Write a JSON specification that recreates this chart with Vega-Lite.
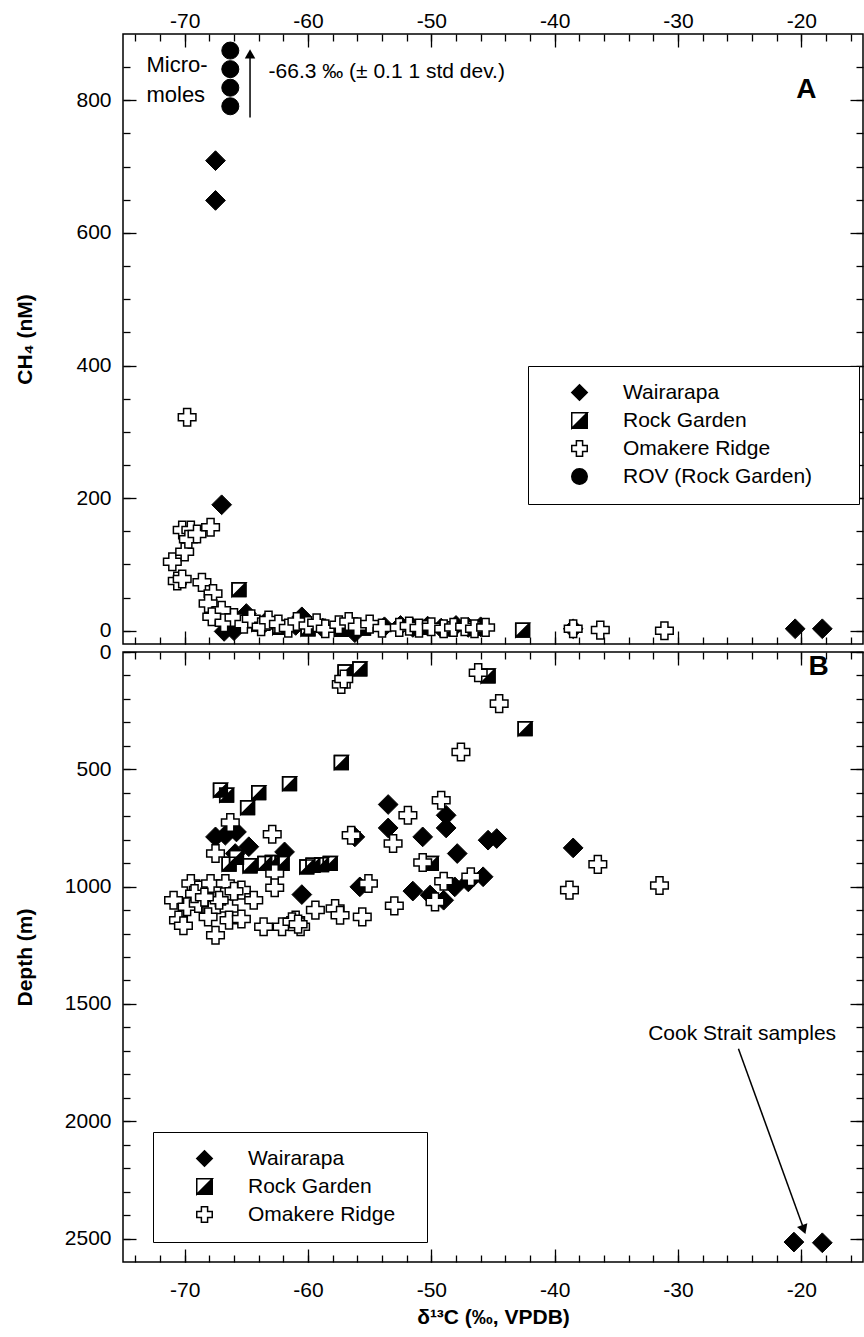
{
  "$schema": "https://vega.github.io/schema/vega-lite/v6.json",
  "background": "white",
  "padding": {"left": 13, "top": 9, "right": 0, "bottom": 0},
  "spacing": 8,
  "bounds": "flush",
  "config": {
    "view": {"stroke": "black", "strokeWidth": 1.5},
    "font": "Liberation Sans",
    "axis": {"domain": false, "grid": false, "tickColor": "black", "tickWidth": 1.3, "labelColor": "black", "labelFont": "Liberation Sans", "labelFontSize": 21, "titleFont": "Liberation Sans", "titleFontSize": 21, "titleFontWeight": "bold", "titleColor": "black"},
    "legend": {"padding": 16, "strokeColor": "black", "fillColor": "white", "symbolOffset": 25, "labelOffset": 33, "labelFont": "Liberation Sans", "labelFontSize": 21, "labelColor": "black", "labelLimit": 400, "rowPadding": 5, "symbolSize": 240, "symbolStrokeWidth": 1.5}
  },
  "datasets": {
    "A": [
      {"site": "Wairarapa", "d13C": -67.5, "ch4": 709}, {"site": "Wairarapa", "d13C": -67.5, "ch4": 649}, {"site": "Wairarapa", "d13C": -67.0, "ch4": 190}, {"site": "Wairarapa", "d13C": -66.8, "ch4": -1}, {"site": "Wairarapa", "d13C": -66.0, "ch4": 0}, {"site": "Wairarapa", "d13C": -65.0, "ch4": 26}, {"site": "Wairarapa", "d13C": -63.5, "ch4": 12}, {"site": "Wairarapa", "d13C": -61.0, "ch4": 8}, {"site": "Wairarapa", "d13C": -60.5, "ch4": 21}, {"site": "Wairarapa", "d13C": -58.8, "ch4": 4}, {"site": "Wairarapa", "d13C": -56.2, "ch4": -3}, {"site": "Wairarapa", "d13C": -53.8, "ch4": 6}, {"site": "Wairarapa", "d13C": -52.5, "ch4": 8}, {"site": "Wairarapa", "d13C": -51.5, "ch4": 5}, {"site": "Wairarapa", "d13C": -50.3, "ch4": 7}, {"site": "Wairarapa", "d13C": -49.2, "ch4": 4}, {"site": "Wairarapa", "d13C": -48.0, "ch4": 8}, {"site": "Wairarapa", "d13C": -47.0, "ch4": 5}, {"site": "Wairarapa", "d13C": -46.0, "ch4": 6}, {"site": "Wairarapa", "d13C": -38.5, "ch4": 3}, {"site": "Wairarapa", "d13C": -20.5, "ch4": 3}, {"site": "Wairarapa", "d13C": -18.3, "ch4": 3},
      {"site": "Rock Garden", "d13C": -65.6, "ch4": 62}, {"site": "Rock Garden", "d13C": -66.5, "ch4": 5}, {"site": "Rock Garden", "d13C": -64.0, "ch4": 10}, {"site": "Rock Garden", "d13C": -62.3, "ch4": 5}, {"site": "Rock Garden", "d13C": -60.0, "ch4": 3}, {"site": "Rock Garden", "d13C": -57.3, "ch4": 2}, {"site": "Rock Garden", "d13C": -55.5, "ch4": 4}, {"site": "Rock Garden", "d13C": -50.5, "ch4": 5}, {"site": "Rock Garden", "d13C": -48.5, "ch4": 3}, {"site": "Rock Garden", "d13C": -46.5, "ch4": 4}, {"site": "Rock Garden", "d13C": -42.6, "ch4": 1},
      {"site": "Omakere Ridge", "d13C": -69.8, "ch4": 322}, {"site": "Omakere Ridge", "d13C": -71.0, "ch4": 104}, {"site": "Omakere Ridge", "d13C": -70.0, "ch4": 119}, {"site": "Omakere Ridge", "d13C": -70.2, "ch4": 152}, {"site": "Omakere Ridge", "d13C": -69.5, "ch4": 152}, {"site": "Omakere Ridge", "d13C": -69.7, "ch4": 138}, {"site": "Omakere Ridge", "d13C": -69.0, "ch4": 146}, {"site": "Omakere Ridge", "d13C": -67.9, "ch4": 156}, {"site": "Omakere Ridge", "d13C": -70.6, "ch4": 75}, {"site": "Omakere Ridge", "d13C": -70.2, "ch4": 78}, {"site": "Omakere Ridge", "d13C": -68.6, "ch4": 73}, {"site": "Omakere Ridge", "d13C": -67.7, "ch4": 56}, {"site": "Omakere Ridge", "d13C": -68.1, "ch4": 41}, {"site": "Omakere Ridge", "d13C": -67.0, "ch4": 31}, {"site": "Omakere Ridge", "d13C": -67.8, "ch4": 21}, {"site": "Omakere Ridge", "d13C": -66.8, "ch4": 12}, {"site": "Omakere Ridge", "d13C": -66.0, "ch4": 20}, {"site": "Omakere Ridge", "d13C": -65.2, "ch4": 10}, {"site": "Omakere Ridge", "d13C": -64.6, "ch4": 18}, {"site": "Omakere Ridge", "d13C": -63.8, "ch4": 6}, {"site": "Omakere Ridge", "d13C": -63.2, "ch4": 16}, {"site": "Omakere Ridge", "d13C": -62.4, "ch4": 10}, {"site": "Omakere Ridge", "d13C": -61.6, "ch4": 4}, {"site": "Omakere Ridge", "d13C": -60.9, "ch4": 14}, {"site": "Omakere Ridge", "d13C": -60.0, "ch4": 8}, {"site": "Omakere Ridge", "d13C": -59.3, "ch4": 12}, {"site": "Omakere Ridge", "d13C": -58.6, "ch4": 3}, {"site": "Omakere Ridge", "d13C": -57.5, "ch4": 9}, {"site": "Omakere Ridge", "d13C": -56.7, "ch4": 14}, {"site": "Omakere Ridge", "d13C": -56.0, "ch4": 6}, {"site": "Omakere Ridge", "d13C": -55.0, "ch4": 10}, {"site": "Omakere Ridge", "d13C": -54.0, "ch4": 4}, {"site": "Omakere Ridge", "d13C": -52.6, "ch4": 5}, {"site": "Omakere Ridge", "d13C": -51.8, "ch4": 7}, {"site": "Omakere Ridge", "d13C": -51.0, "ch4": 4}, {"site": "Omakere Ridge", "d13C": -50.0, "ch4": 6}, {"site": "Omakere Ridge", "d13C": -49.0, "ch4": 3}, {"site": "Omakere Ridge", "d13C": -48.2, "ch4": 5}, {"site": "Omakere Ridge", "d13C": -47.3, "ch4": 6}, {"site": "Omakere Ridge", "d13C": -46.5, "ch4": 3}, {"site": "Omakere Ridge", "d13C": -45.6, "ch4": 5}, {"site": "Omakere Ridge", "d13C": -38.5, "ch4": 3}, {"site": "Omakere Ridge", "d13C": -36.3, "ch4": 1}, {"site": "Omakere Ridge", "d13C": -31.1, "ch4": 0},
      {"site": "ROV (Rock Garden)", "d13C": -66.3, "ch4": 875}, {"site": "ROV (Rock Garden)", "d13C": -66.3, "ch4": 847}, {"site": "ROV (Rock Garden)", "d13C": -66.3, "ch4": 819}, {"site": "ROV (Rock Garden)", "d13C": -66.3, "ch4": 791}
    ],
    "B": [
      {"site": "Wairarapa", "d13C": -53.5, "depth": 650}, {"site": "Wairarapa", "d13C": -48.8, "depth": 696}, {"site": "Wairarapa", "d13C": -48.8, "depth": 750}, {"site": "Wairarapa", "d13C": -53.5, "depth": 750}, {"site": "Wairarapa", "d13C": -50.7, "depth": 788}, {"site": "Wairarapa", "d13C": -47.9, "depth": 859}, {"site": "Wairarapa", "d13C": -45.4, "depth": 802}, {"site": "Wairarapa", "d13C": -44.7, "depth": 795}, {"site": "Wairarapa", "d13C": -56.2, "depth": 788}, {"site": "Wairarapa", "d13C": -67.5, "depth": 788}, {"site": "Wairarapa", "d13C": -66.7, "depth": 781}, {"site": "Wairarapa", "d13C": -65.8, "depth": 767}, {"site": "Wairarapa", "d13C": -64.8, "depth": 830}, {"site": "Wairarapa", "d13C": -65.9, "depth": 859}, {"site": "Wairarapa", "d13C": -61.9, "depth": 852}, {"site": "Wairarapa", "d13C": -60.5, "depth": 1034}, {"site": "Wairarapa", "d13C": -55.8, "depth": 1001}, {"site": "Wairarapa", "d13C": -51.5, "depth": 1019}, {"site": "Wairarapa", "d13C": -50.1, "depth": 1036}, {"site": "Wairarapa", "d13C": -49.0, "depth": 1058}, {"site": "Wairarapa", "d13C": -48.1, "depth": 1001}, {"site": "Wairarapa", "d13C": -47.0, "depth": 980}, {"site": "Wairarapa", "d13C": -45.8, "depth": 958}, {"site": "Wairarapa", "d13C": -38.5, "depth": 835}, {"site": "Wairarapa", "d13C": -20.6, "depth": 2515}, {"site": "Wairarapa", "d13C": -18.3, "depth": 2518},
      {"site": "Rock Garden", "d13C": -57.0, "depth": 85}, {"site": "Rock Garden", "d13C": -55.8, "depth": 72}, {"site": "Rock Garden", "d13C": -45.4, "depth": 102}, {"site": "Rock Garden", "d13C": -42.4, "depth": 327}, {"site": "Rock Garden", "d13C": -57.3, "depth": 471}, {"site": "Rock Garden", "d13C": -61.5, "depth": 561}, {"site": "Rock Garden", "d13C": -67.1, "depth": 589}, {"site": "Rock Garden", "d13C": -66.6, "depth": 610}, {"site": "Rock Garden", "d13C": -64.0, "depth": 599}, {"site": "Rock Garden", "d13C": -64.9, "depth": 663}, {"site": "Rock Garden", "d13C": -66.4, "depth": 904}, {"site": "Rock Garden", "d13C": -64.7, "depth": 911}, {"site": "Rock Garden", "d13C": -63.5, "depth": 901}, {"site": "Rock Garden", "d13C": -62.9, "depth": 897}, {"site": "Rock Garden", "d13C": -62.1, "depth": 901}, {"site": "Rock Garden", "d13C": -60.1, "depth": 916}, {"site": "Rock Garden", "d13C": -59.6, "depth": 909}, {"site": "Rock Garden", "d13C": -58.9, "depth": 906}, {"site": "Rock Garden", "d13C": -58.2, "depth": 901}, {"site": "Rock Garden", "d13C": -50.0, "depth": 901}, {"site": "Rock Garden", "d13C": -65.8, "depth": 875},
      {"site": "Omakere Ridge", "d13C": -57.3, "depth": 138}, {"site": "Omakere Ridge", "d13C": -57.1, "depth": 115}, {"site": "Omakere Ridge", "d13C": -46.2, "depth": 88}, {"site": "Omakere Ridge", "d13C": -44.5, "depth": 220}, {"site": "Omakere Ridge", "d13C": -47.6, "depth": 426}, {"site": "Omakere Ridge", "d13C": -49.2, "depth": 632}, {"site": "Omakere Ridge", "d13C": -51.9, "depth": 696}, {"site": "Omakere Ridge", "d13C": -66.3, "depth": 727}, {"site": "Omakere Ridge", "d13C": -62.9, "depth": 777}, {"site": "Omakere Ridge", "d13C": -56.5, "depth": 781}, {"site": "Omakere Ridge", "d13C": -67.5, "depth": 859}, {"site": "Omakere Ridge", "d13C": -53.1, "depth": 816}, {"site": "Omakere Ridge", "d13C": -50.7, "depth": 897}, {"site": "Omakere Ridge", "d13C": -62.7, "depth": 944}, {"site": "Omakere Ridge", "d13C": -62.7, "depth": 1005}, {"site": "Omakere Ridge", "d13C": -55.1, "depth": 987}, {"site": "Omakere Ridge", "d13C": -53.0, "depth": 1082}, {"site": "Omakere Ridge", "d13C": -49.7, "depth": 1065}, {"site": "Omakere Ridge", "d13C": -49.0, "depth": 977}, {"site": "Omakere Ridge", "d13C": -46.8, "depth": 958}, {"site": "Omakere Ridge", "d13C": -36.5, "depth": 905}, {"site": "Omakere Ridge", "d13C": -38.8, "depth": 1015}, {"site": "Omakere Ridge", "d13C": -31.5, "depth": 995},
      {"site": "Omakere Ridge", "d13C": -70.9, "depth": 1058}, {"site": "Omakere Ridge", "d13C": -69.5, "depth": 987}, {"site": "Omakere Ridge", "d13C": -68.9, "depth": 1015}, {"site": "Omakere Ridge", "d13C": -67.9, "depth": 987}, {"site": "Omakere Ridge", "d13C": -66.7, "depth": 987}, {"site": "Omakere Ridge", "d13C": -65.4, "depth": 1015}, {"site": "Omakere Ridge", "d13C": -64.4, "depth": 1058}, {"site": "Omakere Ridge", "d13C": -69.8, "depth": 1086}, {"site": "Omakere Ridge", "d13C": -68.9, "depth": 1072}, {"site": "Omakere Ridge", "d13C": -67.8, "depth": 1100}, {"site": "Omakere Ridge", "d13C": -66.8, "depth": 1043}, {"site": "Omakere Ridge", "d13C": -66.4, "depth": 1093}, {"site": "Omakere Ridge", "d13C": -70.5, "depth": 1143}, {"site": "Omakere Ridge", "d13C": -70.1, "depth": 1167}, {"site": "Omakere Ridge", "d13C": -68.1, "depth": 1129}, {"site": "Omakere Ridge", "d13C": -66.4, "depth": 1143}, {"site": "Omakere Ridge", "d13C": -65.4, "depth": 1138}, {"site": "Omakere Ridge", "d13C": -67.5, "depth": 1207}, {"site": "Omakere Ridge", "d13C": -63.6, "depth": 1171}, {"site": "Omakere Ridge", "d13C": -62.1, "depth": 1171}, {"site": "Omakere Ridge", "d13C": -61.0, "depth": 1143}, {"site": "Omakere Ridge", "d13C": -60.6, "depth": 1171}, {"site": "Omakere Ridge", "d13C": -59.4, "depth": 1100}, {"site": "Omakere Ridge", "d13C": -57.8, "depth": 1093}, {"site": "Omakere Ridge", "d13C": -57.4, "depth": 1122}, {"site": "Omakere Ridge", "d13C": -55.6, "depth": 1129}, {"site": "Omakere Ridge", "d13C": -69.2, "depth": 1030}, {"site": "Omakere Ridge", "d13C": -67.2, "depth": 1058}, {"site": "Omakere Ridge", "d13C": -68.4, "depth": 1045}, {"site": "Omakere Ridge", "d13C": -66.0, "depth": 1020}, {"site": "Omakere Ridge", "d13C": -61.3, "depth": 1150}, {"site": "Omakere Ridge", "d13C": -60.8, "depth": 1160}
    ]
  },
  "resolve": {"scale": {"shape": "independent", "fill": "independent", "stroke": "independent"}, "legend": {"shape": "independent", "fill": "independent", "stroke": "independent"}},
  "vconcat": [
    {
      "width": 740,
      "height": 610,
      "data": {"name": "A"},
      "resolve": {"axis": {"x": "independent", "y": "independent"}},
      "layer": [
        {
          "transform": [{"filter": "datum.site === 'Wairarapa'"}],
          "mark": {"type": "point", "filled": true, "size": 390, "strokeWidth": 1, "opacity": 1},
          "encoding": {
            "x": {"field": "d13C", "type": "quantitative", "scale": {"domain": [-75, -15], "nice": false, "zero": false}, "axis": {"orient": "top", "values": [-70, -60, -50, -40, -30, -20], "tickSize": -13, "labelPadding": 16, "labelExpr": "'' + datum.value", "title": null}},
            "y": {"field": "ch4", "type": "quantitative", "scale": {"domain": [-20, 900], "nice": false, "zero": false}, "axis": {"orient": "left", "values": [0, 200, 400, 600, 800], "tickSize": -13, "labelPadding": 25, "labelExpr": "'' + datum.value", "title": "CH₄ (nM)", "titlePadding": 26, "minExtent": 62, "maxExtent": 62}},
            "shape": {"field": "site", "type": "nominal", "scale": {"domain": ["Wairarapa", "Rock Garden", "Omakere Ridge", "ROV (Rock Garden)"], "range": ["diamond", "M-1,-1L1,-1L1,1L-1,1ZM-1,-1L-1,1L1,-1Z", "cross", "circle"]}, "legend": {"title": null, "orient": "none", "legendX": 405, "legendY": 332, "labelExpr": "datum.label + '⠀⠀'"}},
            "fill": {"field": "site", "type": "nominal", "scale": {"domain": ["Wairarapa", "Rock Garden", "Omakere Ridge", "ROV (Rock Garden)"], "range": ["black", "black", "white", "black"]}, "legend": {"title": null, "orient": "none", "legendX": 405, "legendY": 332, "labelExpr": "datum.label + '⠀⠀'"}},
            "stroke": {"field": "site", "type": "nominal", "scale": {"domain": ["Wairarapa", "Rock Garden", "Omakere Ridge", "ROV (Rock Garden)"], "range": ["black", "black", "black", "black"]}, "legend": {"title": null, "orient": "none", "legendX": 405, "legendY": 332, "labelExpr": "datum.label + '⠀⠀'"}}
          }
        },
        {
          "transform": [{"filter": "datum.site === 'Rock Garden'"}],
          "mark": {"type": "point", "shape": "square", "filled": true, "fill": "white", "size": 190, "stroke": "black", "strokeWidth": 1.5, "opacity": 1},
          "encoding": {
            "x": {"field": "d13C", "type": "quantitative", "scale": {"domain": [-75, -15], "nice": false, "zero": false}, "axis": {"orient": "top", "values": [-74, -72, -70, -68, -66, -64, -62, -60, -58, -56, -54, -52, -50, -48, -46, -44, -42, -40, -38, -36, -34, -32, -30, -28, -26, -24, -22, -20, -18, -16], "tickSize": -7, "labels": false, "title": null, "minExtent": 0, "maxExtent": 0}},
            "y": {"field": "ch4", "type": "quantitative", "scale": {"domain": [-20, 900], "nice": false, "zero": false}, "axis": {"orient": "left", "values": [0, 50, 100, 150, 200, 250, 300, 350, 400, 450, 500, 550, 600, 650, 700, 750, 800, 850], "tickSize": -7, "labels": false, "title": null, "minExtent": 0, "maxExtent": 0}}
          }
        },
        {
          "transform": [{"filter": "datum.site === 'Rock Garden'"}],
          "mark": {"type": "point", "filled": true, "size": 190, "strokeWidth": 1.5, "opacity": 1},
          "encoding": {
            "x": {"field": "d13C", "type": "quantitative", "scale": {"domain": [-75, -15], "nice": false, "zero": false}, "axis": {"orient": "bottom", "values": [-70, -60, -50, -40, -30, -20], "tickSize": -13, "labels": false, "title": null, "minExtent": 0, "maxExtent": 0}},
            "y": {"field": "ch4", "type": "quantitative", "scale": {"domain": [-20, 900], "nice": false, "zero": false}, "axis": {"orient": "right", "values": [0, 200, 400, 600, 800], "tickSize": -13, "labels": false, "title": null, "minExtent": 0, "maxExtent": 0}},
            "shape": {"field": "site", "type": "nominal", "scale": {"domain": ["Wairarapa", "Rock Garden", "Omakere Ridge", "ROV (Rock Garden)"], "range": ["diamond", "M-1,-1L1,-1L1,1L-1,1ZM-1,-1L-1,1L1,-1Z", "cross", "circle"]}, "legend": {"title": null, "orient": "none", "legendX": 405, "legendY": 332, "labelExpr": "datum.label + '⠀⠀'"}},
            "fill": {"field": "site", "type": "nominal", "scale": {"domain": ["Wairarapa", "Rock Garden", "Omakere Ridge", "ROV (Rock Garden)"], "range": ["black", "black", "white", "black"]}, "legend": {"title": null, "orient": "none", "legendX": 405, "legendY": 332, "labelExpr": "datum.label + '⠀⠀'"}},
            "stroke": {"field": "site", "type": "nominal", "scale": {"domain": ["Wairarapa", "Rock Garden", "Omakere Ridge", "ROV (Rock Garden)"], "range": ["black", "black", "black", "black"]}, "legend": {"title": null, "orient": "none", "legendX": 405, "legendY": 332, "labelExpr": "datum.label + '⠀⠀'"}}
          }
        },
        {
          "transform": [{"filter": "datum.site === 'Omakere Ridge'"}],
          "mark": {"type": "point", "filled": true, "size": 310, "strokeWidth": 1.5, "opacity": 1},
          "encoding": {
            "x": {"field": "d13C", "type": "quantitative", "scale": {"domain": [-75, -15], "nice": false, "zero": false}, "axis": {"orient": "bottom", "values": [-74, -72, -70, -68, -66, -64, -62, -60, -58, -56, -54, -52, -50, -48, -46, -44, -42, -40, -38, -36, -34, -32, -30, -28, -26, -24, -22, -20, -18, -16], "tickSize": -7, "labels": false, "title": null, "minExtent": 0, "maxExtent": 0}},
            "y": {"field": "ch4", "type": "quantitative", "scale": {"domain": [-20, 900], "nice": false, "zero": false}, "axis": {"orient": "right", "values": [0, 50, 100, 150, 200, 250, 300, 350, 400, 450, 500, 550, 600, 650, 700, 750, 800, 850], "tickSize": -7, "labels": false, "title": null, "minExtent": 0, "maxExtent": 0}},
            "shape": {"field": "site", "type": "nominal", "scale": {"domain": ["Wairarapa", "Rock Garden", "Omakere Ridge", "ROV (Rock Garden)"], "range": ["diamond", "M-1,-1L1,-1L1,1L-1,1ZM-1,-1L-1,1L1,-1Z", "cross", "circle"]}, "legend": {"title": null, "orient": "none", "legendX": 405, "legendY": 332, "labelExpr": "datum.label + '⠀⠀'"}},
            "fill": {"field": "site", "type": "nominal", "scale": {"domain": ["Wairarapa", "Rock Garden", "Omakere Ridge", "ROV (Rock Garden)"], "range": ["black", "black", "white", "black"]}, "legend": {"title": null, "orient": "none", "legendX": 405, "legendY": 332, "labelExpr": "datum.label + '⠀⠀'"}},
            "stroke": {"field": "site", "type": "nominal", "scale": {"domain": ["Wairarapa", "Rock Garden", "Omakere Ridge", "ROV (Rock Garden)"], "range": ["black", "black", "black", "black"]}, "legend": {"title": null, "orient": "none", "legendX": 405, "legendY": 332, "labelExpr": "datum.label + '⠀⠀'"}}
          }
        },
        {
          "transform": [{"filter": "datum.site === 'ROV (Rock Garden)'"}],
          "mark": {"type": "point", "filled": true, "size": 290, "strokeWidth": 1, "opacity": 1},
          "encoding": {
            "x": {"field": "d13C", "type": "quantitative", "scale": {"domain": [-75, -15], "nice": false, "zero": false}, "axis": null},
            "y": {"field": "ch4", "type": "quantitative", "scale": {"domain": [-20, 900], "nice": false, "zero": false}, "axis": null},
            "shape": {"field": "site", "type": "nominal", "scale": {"domain": ["Wairarapa", "Rock Garden", "Omakere Ridge", "ROV (Rock Garden)"], "range": ["diamond", "M-1,-1L1,-1L1,1L-1,1ZM-1,-1L-1,1L1,-1Z", "cross", "circle"]}, "legend": {"title": null, "orient": "none", "legendX": 405, "legendY": 332, "labelExpr": "datum.label + '⠀⠀'"}},
            "fill": {"field": "site", "type": "nominal", "scale": {"domain": ["Wairarapa", "Rock Garden", "Omakere Ridge", "ROV (Rock Garden)"], "range": ["black", "black", "white", "black"]}, "legend": {"title": null, "orient": "none", "legendX": 405, "legendY": 332, "labelExpr": "datum.label + '⠀⠀'"}},
            "stroke": {"field": "site", "type": "nominal", "scale": {"domain": ["Wairarapa", "Rock Garden", "Omakere Ridge", "ROV (Rock Garden)"], "range": ["black", "black", "black", "black"]}, "legend": {"title": null, "orient": "none", "legendX": 405, "legendY": 332, "labelExpr": "datum.label + '⠀⠀'"}}
          }
        },
        {
          "data": {"values": [{}]},
          "mark": {"type": "rule", "color": "black", "strokeWidth": 1.5},
          "encoding": {
            "x": {"datum": -64.7, "type": "quantitative", "scale": {"domain": [-75, -15], "nice": false, "zero": false}, "axis": null},
            "y": {"datum": 774, "type": "quantitative", "scale": {"domain": [-20, 900], "nice": false, "zero": false}, "axis": null},
            "y2": {"datum": 866}
          }
        },
        {
          "data": {"values": [{}]},
          "mark": {"type": "point", "shape": "triangle-up", "filled": true, "color": "black", "size": 110, "opacity": 1},
          "encoding": {
            "x": {"datum": -64.7, "type": "quantitative", "scale": {"domain": [-75, -15], "nice": false, "zero": false}, "axis": null},
            "y": {"datum": 870, "type": "quantitative", "scale": {"domain": [-20, 900], "nice": false, "zero": false}, "axis": null}
          }
        },
        {
          "data": {"values": [{}]},
          "mark": {"type": "text", "text": ["Micro-", "moles"], "align": "left", "baseline": "middle", "font": "Liberation Sans", "fontSize": 22, "lineHeight": 30, "color": "black"},
          "encoding": {
            "x": {"datum": -73.1, "type": "quantitative", "scale": {"domain": [-75, -15], "nice": false, "zero": false}, "axis": null},
            "y": {"datum": 854, "type": "quantitative", "scale": {"domain": [-20, 900], "nice": false, "zero": false}, "axis": null}
          }
        },
        {
          "data": {"values": [{}]},
          "mark": {"type": "text", "text": "-66.3 ‰ (± 0.1 1 std dev.)", "align": "left", "baseline": "middle", "font": "Liberation Sans", "fontSize": 21, "color": "black"},
          "encoding": {
            "x": {"datum": -63.2, "type": "quantitative", "scale": {"domain": [-75, -15], "nice": false, "zero": false}, "axis": null},
            "y": {"datum": 842, "type": "quantitative", "scale": {"domain": [-20, 900], "nice": false, "zero": false}, "axis": null}
          }
        },
        {
          "data": {"values": [{}]},
          "mark": {"type": "text", "text": "A", "align": "center", "baseline": "middle", "font": "Liberation Sans", "fontSize": 28, "fontWeight": "bold", "color": "black"},
          "encoding": {
            "x": {"datum": -19.6, "type": "quantitative", "scale": {"domain": [-75, -15], "nice": false, "zero": false}, "axis": null},
            "y": {"datum": 816, "type": "quantitative", "scale": {"domain": [-20, 900], "nice": false, "zero": false}, "axis": null}
          }
        }
      ]
    },
    {
      "width": 740,
      "height": 610,
      "data": {"name": "B"},
      "resolve": {"axis": {"x": "independent", "y": "independent"}},
      "layer": [
        {
          "transform": [{"filter": "datum.site === 'Wairarapa'"}],
          "mark": {"type": "point", "filled": true, "size": 390, "strokeWidth": 1, "opacity": 1},
          "encoding": {
            "x": {"field": "d13C", "type": "quantitative", "scale": {"domain": [-75, -15], "nice": false, "zero": false}, "axis": {"orient": "bottom", "values": [-70, -60, -50, -40, -30, -20], "tickSize": -13, "labelPadding": 30, "labelExpr": "'' + datum.value", "title": "δ¹³C (‰, VPDB)", "titlePadding": 6, "minExtent": 38, "maxExtent": 38}},
            "y": {"field": "depth", "type": "quantitative", "scale": {"domain": [0, 2600], "nice": false, "zero": false, "reverse": true}, "axis": {"orient": "left", "values": [0, 500, 1000, 1500, 2000, 2500], "tickSize": -13, "labelPadding": 25, "labelExpr": "'' + datum.value", "title": "Depth (m)", "titlePadding": 26, "minExtent": 62, "maxExtent": 62}},
            "shape": {"field": "site", "type": "nominal", "scale": {"domain": ["Wairarapa", "Rock Garden", "Omakere Ridge"], "range": ["diamond", "M-1,-1L1,-1L1,1L-1,1ZM-1,-1L-1,1L1,-1Z", "cross"]}, "legend": {"title": null, "orient": "none", "legendX": 30, "legendY": 480, "labelExpr": "datum.label + '⠀'"}},
            "fill": {"field": "site", "type": "nominal", "scale": {"domain": ["Wairarapa", "Rock Garden", "Omakere Ridge"], "range": ["black", "black", "white"]}, "legend": {"title": null, "orient": "none", "legendX": 30, "legendY": 480, "labelExpr": "datum.label + '⠀'"}},
            "stroke": {"field": "site", "type": "nominal", "scale": {"domain": ["Wairarapa", "Rock Garden", "Omakere Ridge"], "range": ["black", "black", "black"]}, "legend": {"title": null, "orient": "none", "legendX": 30, "legendY": 480, "labelExpr": "datum.label + '⠀'"}}
          }
        },
        {
          "transform": [{"filter": "datum.site === 'Rock Garden'"}],
          "mark": {"type": "point", "shape": "square", "filled": true, "fill": "white", "size": 190, "stroke": "black", "strokeWidth": 1.5, "opacity": 1},
          "encoding": {
            "x": {"field": "d13C", "type": "quantitative", "scale": {"domain": [-75, -15], "nice": false, "zero": false}, "axis": {"orient": "bottom", "values": [-74, -72, -70, -68, -66, -64, -62, -60, -58, -56, -54, -52, -50, -48, -46, -44, -42, -40, -38, -36, -34, -32, -30, -28, -26, -24, -22, -20, -18, -16], "tickSize": -7, "labels": false, "title": null, "minExtent": 0, "maxExtent": 0}},
            "y": {"field": "depth", "type": "quantitative", "scale": {"domain": [0, 2600], "nice": false, "zero": false, "reverse": true}, "axis": {"orient": "left", "values": [0, 100, 200, 300, 400, 500, 600, 700, 800, 900, 1000, 1100, 1200, 1300, 1400, 1500, 1600, 1700, 1800, 1900, 2000, 2100, 2200, 2300, 2400, 2500], "tickSize": -7, "labels": false, "title": null, "minExtent": 0, "maxExtent": 0}}
          }
        },
        {
          "transform": [{"filter": "datum.site === 'Rock Garden'"}],
          "mark": {"type": "point", "filled": true, "size": 190, "strokeWidth": 1.5, "opacity": 1},
          "encoding": {
            "x": {"field": "d13C", "type": "quantitative", "scale": {"domain": [-75, -15], "nice": false, "zero": false}, "axis": {"orient": "top", "values": [-70, -60, -50, -40, -30, -20], "tickSize": -13, "labels": false, "title": null, "minExtent": 0, "maxExtent": 0}},
            "y": {"field": "depth", "type": "quantitative", "scale": {"domain": [0, 2600], "nice": false, "zero": false, "reverse": true}, "axis": {"orient": "right", "values": [0, 500, 1000, 1500, 2000, 2500], "tickSize": -13, "labels": false, "title": null, "minExtent": 0, "maxExtent": 0}},
            "shape": {"field": "site", "type": "nominal", "scale": {"domain": ["Wairarapa", "Rock Garden", "Omakere Ridge"], "range": ["diamond", "M-1,-1L1,-1L1,1L-1,1ZM-1,-1L-1,1L1,-1Z", "cross"]}, "legend": {"title": null, "orient": "none", "legendX": 30, "legendY": 480, "labelExpr": "datum.label + '⠀'"}},
            "fill": {"field": "site", "type": "nominal", "scale": {"domain": ["Wairarapa", "Rock Garden", "Omakere Ridge"], "range": ["black", "black", "white"]}, "legend": {"title": null, "orient": "none", "legendX": 30, "legendY": 480, "labelExpr": "datum.label + '⠀'"}},
            "stroke": {"field": "site", "type": "nominal", "scale": {"domain": ["Wairarapa", "Rock Garden", "Omakere Ridge"], "range": ["black", "black", "black"]}, "legend": {"title": null, "orient": "none", "legendX": 30, "legendY": 480, "labelExpr": "datum.label + '⠀'"}}
          }
        },
        {
          "transform": [{"filter": "datum.site === 'Omakere Ridge'"}],
          "mark": {"type": "point", "filled": true, "size": 310, "strokeWidth": 1.5, "opacity": 1},
          "encoding": {
            "x": {"field": "d13C", "type": "quantitative", "scale": {"domain": [-75, -15], "nice": false, "zero": false}, "axis": {"orient": "top", "values": [-74, -72, -70, -68, -66, -64, -62, -60, -58, -56, -54, -52, -50, -48, -46, -44, -42, -40, -38, -36, -34, -32, -30, -28, -26, -24, -22, -20, -18, -16], "tickSize": -7, "labels": false, "title": null, "minExtent": 0, "maxExtent": 0}},
            "y": {"field": "depth", "type": "quantitative", "scale": {"domain": [0, 2600], "nice": false, "zero": false, "reverse": true}, "axis": {"orient": "right", "values": [0, 100, 200, 300, 400, 500, 600, 700, 800, 900, 1000, 1100, 1200, 1300, 1400, 1500, 1600, 1700, 1800, 1900, 2000, 2100, 2200, 2300, 2400, 2500], "tickSize": -7, "labels": false, "title": null, "minExtent": 0, "maxExtent": 0}},
            "shape": {"field": "site", "type": "nominal", "scale": {"domain": ["Wairarapa", "Rock Garden", "Omakere Ridge"], "range": ["diamond", "M-1,-1L1,-1L1,1L-1,1ZM-1,-1L-1,1L1,-1Z", "cross"]}, "legend": {"title": null, "orient": "none", "legendX": 30, "legendY": 480, "labelExpr": "datum.label + '⠀'"}},
            "fill": {"field": "site", "type": "nominal", "scale": {"domain": ["Wairarapa", "Rock Garden", "Omakere Ridge"], "range": ["black", "black", "white"]}, "legend": {"title": null, "orient": "none", "legendX": 30, "legendY": 480, "labelExpr": "datum.label + '⠀'"}},
            "stroke": {"field": "site", "type": "nominal", "scale": {"domain": ["Wairarapa", "Rock Garden", "Omakere Ridge"], "range": ["black", "black", "black"]}, "legend": {"title": null, "orient": "none", "legendX": 30, "legendY": 480, "labelExpr": "datum.label + '⠀'"}}
          }
        },
        {
          "data": {"values": [{}]},
          "mark": {"type": "rule", "color": "black", "strokeWidth": 1.5},
          "encoding": {
            "x": {"datum": -25.1, "type": "quantitative", "scale": {"domain": [-75, -15], "nice": false, "zero": false}, "axis": null},
            "y": {"datum": 1691, "type": "quantitative", "scale": {"domain": [0, 2600], "nice": false, "zero": false, "reverse": true}, "axis": null},
            "x2": {"datum": -19.9},
            "y2": {"datum": 2445}
          }
        },
        {
          "data": {"values": [{}]},
          "mark": {"type": "point", "shape": "triangle-down", "filled": true, "color": "black", "size": 120, "angle": -20, "opacity": 1},
          "encoding": {
            "x": {"datum": -19.8, "type": "quantitative", "scale": {"domain": [-75, -15], "nice": false, "zero": false}, "axis": null},
            "y": {"datum": 2462, "type": "quantitative", "scale": {"domain": [0, 2600], "nice": false, "zero": false, "reverse": true}, "axis": null}
          }
        },
        {
          "data": {"values": [{}]},
          "mark": {"type": "text", "text": "Cook Strait samples", "align": "center", "baseline": "middle", "font": "Liberation Sans", "fontSize": 21, "color": "black"},
          "encoding": {
            "x": {"datum": -24.8, "type": "quantitative", "scale": {"domain": [-75, -15], "nice": false, "zero": false}, "axis": null},
            "y": {"datum": 1627, "type": "quantitative", "scale": {"domain": [0, 2600], "nice": false, "zero": false, "reverse": true}, "axis": null}
          }
        },
        {
          "data": {"values": [{}]},
          "mark": {"type": "text", "text": "B", "align": "center", "baseline": "middle", "font": "Liberation Sans", "fontSize": 28, "fontWeight": "bold", "color": "black"},
          "encoding": {
            "x": {"datum": -18.6, "type": "quantitative", "scale": {"domain": [-75, -15], "nice": false, "zero": false}, "axis": null},
            "y": {"datum": 64, "type": "quantitative", "scale": {"domain": [0, 2600], "nice": false, "zero": false, "reverse": true}, "axis": null}
          }
        }
      ]
    }
  ]
}
